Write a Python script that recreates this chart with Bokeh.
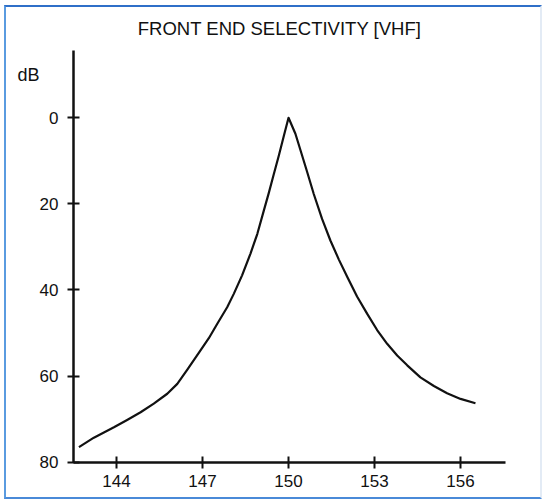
from bokeh.plotting import figure
from bokeh.models import Range1d, FixedTicker, Label
from bokeh.embed import file_html
from bokeh.resources import INLINE

# Data
freq_mhz = [142.69, 143.21, 143.91, 144.37, 144.84, 145.30, 145.77, 146.12,
            146.47, 146.87, 147.22, 147.51, 147.86, 148.09, 148.38, 148.67,
            148.91, 149.14, 149.31, 149.49, 149.66, 149.84, 150.00,
            150.24, 150.42, 150.65, 150.88, 151.17, 151.46, 151.76, 152.05,
            152.39, 152.74, 153.09, 153.44, 153.79, 154.14, 154.60, 155.07,
            155.53, 156.00, 156.52]
atten_db = [76.5, 74.3, 71.9, 70.2, 68.4, 66.4, 64.1, 61.8,
            58.5, 54.6, 51.2, 47.9, 44.0, 40.9, 36.6, 31.6,
            27.0, 21.5, 17.5, 13.0, 8.8, 4.1, 0.0,
            3.7, 7.6, 12.6, 17.7, 23.5, 28.5, 33.0, 37.0,
            41.5, 45.5, 49.3, 52.5, 55.2, 57.5, 60.3, 62.3,
            64.0, 65.3, 66.3]
x_ticks = [144, 147, 150, 153, 156]
y_ticks = [0, 20, 40, 60, 80]
title_text = "FRONT END SELECTIVITY [VHF]"
unit_text = "dB"

# axis extents (data units)
x_axis_bounds = (142.5, 157.57)
y_axis_bounds = (-15.6, 80)

FONT = "Liberation Sans"
INK = "#111111"

p = figure(width=538, height=494, output_backend="svg", toolbar_location=None,
           x_range=Range1d(140.163, 158.928), y_range=Range1d(89.13, -25.62),
           min_border=0)
p.styles = {
    "border-style": "solid",
    "border-width": "2px",
    "border-top-color": "#2f6fc8",
    "border-left-color": "#5a9be0",
    "border-bottom-color": "#4a8ad8",
    "border-right-color": "#e3ebf5",
    "margin": "5px 0 0 4px",
}
p.background_fill_color = "white"
p.border_fill_color = "white"
p.outline_line_color = None
p.xgrid.visible = False
p.ygrid.visible = False

for ax, ticks in ((p.xaxis[0], x_ticks), (p.yaxis[0], y_ticks)):
    ax.ticker = FixedTicker(ticks=ticks)
    ax.minor_tick_line_color = None
    ax.axis_line_width = 2.5
    ax.axis_line_color = INK
    ax.major_tick_line_width = 2
    ax.major_tick_line_color = INK
    ax.major_tick_in = 6
    ax.major_tick_out = 6
    ax.major_label_text_font = FONT
    ax.major_label_text_font_size = "17px"
    ax.major_label_text_color = INK

p.xaxis.fixed_location = y_axis_bounds[1]
p.xaxis.bounds = x_axis_bounds
p.yaxis.fixed_location = x_axis_bounds[0]
p.yaxis.bounds = y_axis_bounds
p.xaxis.major_label_standoff = 7
p.yaxis.major_label_standoff = 9

p.line(freq_mhz, atten_db, line_width=2.2, line_color=INK, line_join="round")

p.add_layout(Label(x=149.69, y=-20.74, text=title_text,
                   text_align="center", text_baseline="middle", text_font=FONT,
                   text_font_size="18.5px", text_color=INK))
p.add_layout(Label(x=140.93, y=-9.83, text=unit_text,
                   text_align="center", text_baseline="middle", text_font=FONT,
                   text_font_size="18px", text_color=INK))

open("out.html", "w").write(file_html(p, INLINE))
